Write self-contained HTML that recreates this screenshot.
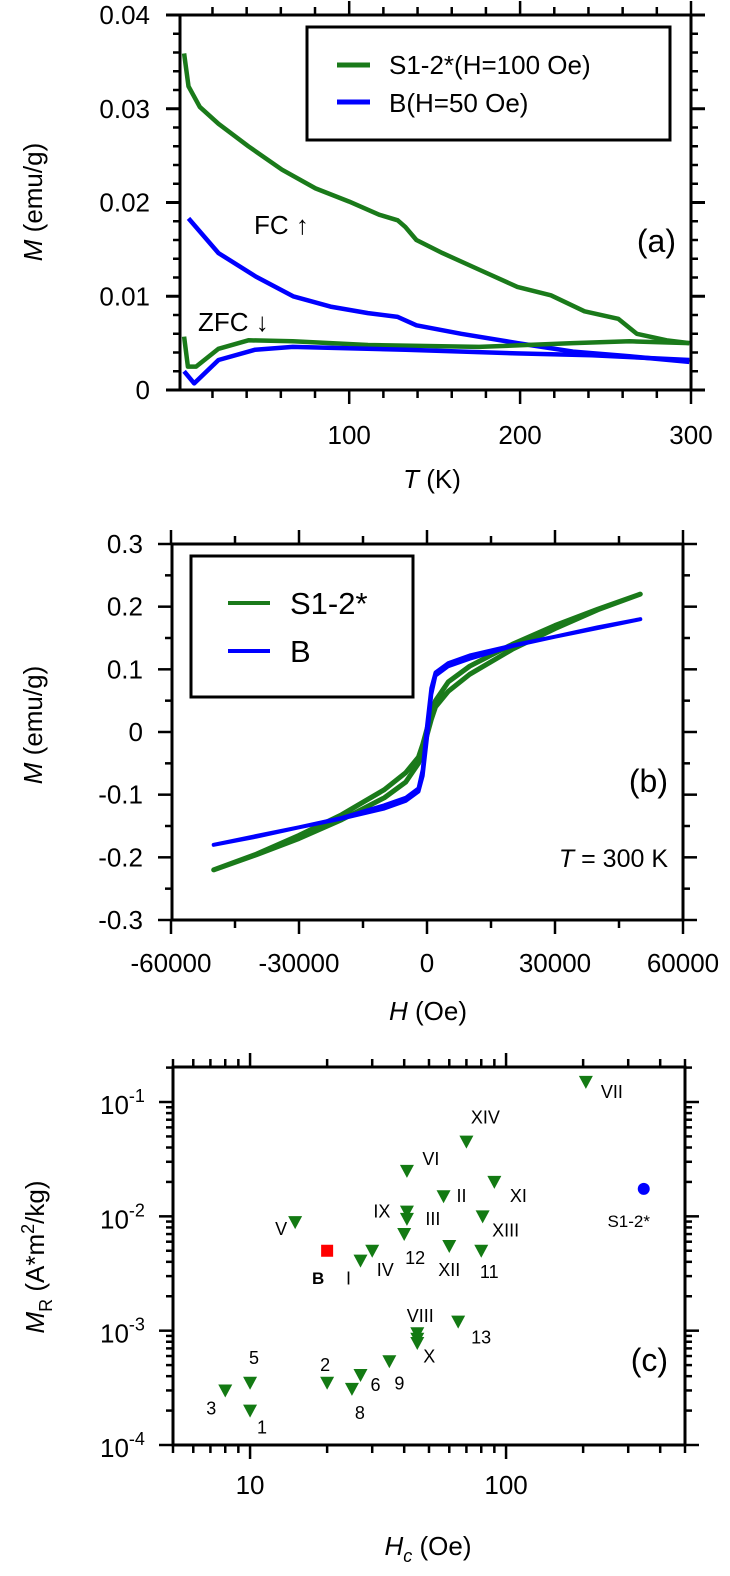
<!DOCTYPE html>
<html><head><meta charset="utf-8"><style>
html,body{margin:0;padding:0;background:#fff}
svg{display:block}
text{font-family:"Liberation Sans",Arial,sans-serif;fill:#000}
</style></head><body>
<svg id="fig" xmlns="http://www.w3.org/2000/svg" width="730" height="1576" viewBox="0 0 730 1576"></svg>
<script>
// ---------- Panel (a) data ----------
const fcGreenT = [3.4,6,12.6,23.5,41,60.7,80.3,100,117.5,128.4,132.8,139.3,154.6,176.5,198.4,218,237.7,257.4,268.3,285.8,299];
const fcGreenM = [0.0359,0.0324,0.0302,0.0284,0.0260,0.0235,0.0215,0.0201,0.0187,0.0181,0.0174,0.0160,0.0146,0.0128,0.0110,0.0101,0.0084,0.0076,0.0060,0.0053,0.0050];
const fcBlueT = [6,23.5,45.4,67.2,89,111,128.4,139.3,165.6,198.4,231,264,299];
const fcBlueM = [0.0183,0.0146,0.0121,0.0100,0.0089,0.0082,0.0078,0.0069,0.0060,0.0050,0.0041,0.0036,0.0030];
const zfcGreenT = [3.4,5.6,10.4,23.5,41,67,111,176,231,264,299];
const zfcGreenM = [0.0057,0.0025,0.0025,0.0044,0.0053,0.0052,0.0048,0.0046,0.0050,0.0052,0.0050];
const zfcBlueT = [3.4,9.3,23.5,45,67,133,198,242,299];
const zfcBlueM = [0.0020,0.0007,0.0032,0.0043,0.0046,0.0043,0.0039,0.0037,0.0032];
const aXTicks = [100,200,300];
const aYTicks = [0,0.01,0.02,0.03,0.04];
const aYTickLabels = ["0","0.01","0.02","0.03","0.04"];
// ---------- Panel (b) data ----------
const loopH = [-50000,-40000,-30000,-20000,-10000,-5000,-2000,-1000,0,1000,2000,5000,10000,20000,30000,40000,50000];
const greenUpM = [-0.22,-0.196,-0.17,-0.14,-0.105,-0.08,-0.05,-0.03,-0.005,0.02,0.04,0.065,0.092,0.132,0.165,0.195,0.22];
const blueUpM = [-0.18,-0.167,-0.152,-0.138,-0.122,-0.11,-0.095,-0.07,-0.01,0.06,0.09,0.105,0.117,0.137,0.152,0.166,0.18];
const bXTicks = [-60000,-30000,0,30000,60000];
const bXTickLabels = ["-60000","-30000","0","30000","60000"];
const bYTicks = [-0.3,-0.2,-0.1,0,0.1,0.2,0.3];
const bYTickLabels = ["-0.3","-0.2","-0.1","0","0.1","0.2","0.3"];
// ---------- Panel (c) data ----------
const cNames = ["VII","XIV","VI","II","XI","IX","III","XIII","V","12","XII","11","IV","I","VIII","X","X2","13","9","6","8","2","5","1","3"];
const cHc = [205,70,41,57,90,41,41,81,15,40,60,80,30,27,45,45,45,65,35,27,25,20,10,10,8];
const cMr = [0.15,0.045,0.025,0.015,0.02,0.011,0.0095,0.010,0.0089,0.007,0.0055,0.005,0.005,0.0041,0.00095,0.00085,0.00078,0.0012,0.00054,0.00041,0.00031,0.00035,0.00035,0.0002,0.0003];
const cShowLabel = ["VII","XIV","VI","II","XI","IX","III","XIII","V","12","XII","11","IV","I","VIII","X","","13","9","6","8","2","5","1","3"];
const cLabelDx = [26,19,24,18,24,-25,26,23,-14,11,0,8,13,-12,3,12,0,23,10,15,8,-2,4,12,-14];
const cLabelDy = [10,-24,-12,0,14,0,0,14,7,24,24,21,19,18,-17,18,0,16,22,10,24,-18,-25,17,18];
const bSampleHc = [20], bSampleMr = [0.005];
const sSampleHc = [345], sSampleMr = [0.0174];
const cYExps = [-4,-3,-2,-1];
const cXTicks = [10,100];

const NS = "http://www.w3.org/2000/svg";
const svg = document.getElementById("fig");
function mk(tag, attrs, parent){const e=document.createElementNS(NS,tag);for(const k in attrs)e.setAttribute(k,attrs[k]);(parent||svg).appendChild(e);return e;}
function poly(xs,ys,fx,fy){return xs.map((v,i)=>fx(v).toFixed(1)+","+fy(ys[i]).toFixed(1)).join(" ");}

// ===== Panel A =====
const A={l:180,r:691,t:15,b:390};
const xa=T=>A.l+(T-1)*(A.r-A.l)/299;
const ya=M=>A.b-M/0.04*(A.b-A.t);
let gA=mk("g",{});


let el;
for(let v=0;v<=0.04001;v+=0.002){const maj=Math.abs(v/0.01-Math.round(v/0.01))<1e-6;const y=ya(v);const L=maj?14:7;
 el=mk("line",{x1:A.l-L,y1:y,x2:A.l,y2:y,stroke:"#000","stroke-width":maj?3:2.5},gA);
 
 
 el=mk("line",{x1:A.r,y1:y,x2:A.r+L,y2:y,stroke:"#000","stroke-width":maj?3:2.5},gA);
 
 }
for(let T=20;T<=300;T+=20){const maj=T%100===0;const x=xa(T);const L=maj?14:8;
 el=mk("line",{x1:x,y1:A.b,x2:x,y2:A.b+L,stroke:"#000","stroke-width":2.5},gA);
 
 
 el=mk("line",{x1:x,y1:A.t-L,x2:x,y2:A.t,stroke:"#000","stroke-width":2.5},gA);
 
 }
el=mk("rect",{x:A.l,y:A.t,width:A.r-A.l,height:A.b-A.t,fill:"none",stroke:"#000","stroke-width":3},gA);


aYTicks.forEach((v,i)=>{el=mk("text",{x:150,y:ya(v)+9,"font-size":26,"text-anchor":"end"},gA);el.textContent=aYTickLabels[i];
 
 });
aXTicks.forEach(v=>{el=mk("text",{x:xa(v),y:444,"font-size":26,"text-anchor":"middle"},gA);el.textContent=String(v);
 
 });
el=mk("text",{x:0,y:0,"font-size":26,"text-anchor":"middle",transform:"translate(42,202) rotate(-90)"},gA);
el.innerHTML='<tspan font-style="italic">M</tspan> (emu/g)';


el=mk("text",{x:432,y:488,"font-size":26,"text-anchor":"middle"},gA);
el.innerHTML='<tspan font-style="italic">T</tspan> (K)';


[[fcGreenT,fcGreenM,"#1a7a1a","fc-green-line"],[fcBlueT,fcBlueM,"#0000ff","fc-blue-line"],[zfcGreenT,zfcGreenM,"#1a7a1a","zfc-green-line"],[zfcBlueT,zfcBlueM,"#0000ff","zfc-blue-line"]].forEach(s=>{
 el=mk("polyline",{points:poly(s[0],s[1],xa,ya),fill:"none",stroke:s[2],"stroke-width":4.5,"stroke-linejoin":"round"},gA);
 
 });
el=mk("text",{x:254,y:234,"font-size":26,fill:"#333"},gA);el.textContent="FC ↑";


el=mk("text",{x:198,y:331,"font-size":26,fill:"#333"},gA);el.textContent="ZFC ↓";


el=mk("text",{x:676,y:252,"font-size":32,"text-anchor":"end"},gA);el.textContent="(a)";


el=mk("rect",{x:307,y:27,width:363,height:113,fill:"#fff",stroke:"#000","stroke-width":3},gA);


el=mk("line",{x1:337,y1:65,x2:370,y2:65,stroke:"#1a7a1a","stroke-width":5},gA);


el=mk("line",{x1:337,y1:102,x2:370,y2:102,stroke:"#0000ff","stroke-width":5},gA);


el=mk("text",{x:389,y:74,"font-size":26},gA);el.textContent="S1-2*(H=100 Oe)";


el=mk("text",{x:389,y:112,"font-size":26},gA);el.textContent="B(H=50 Oe)";



// ===== Panel B =====
const B={l:172,r:683,t:544,b:920};
const xb=H=>427+H/60000*256;
const yb=M=>732-M/0.3*188;
let gB=mk("g",{});


for(let k=-6;k<=6;k++){const v=k*0.05;const maj=k%2===0;const y=yb(v);const L=maj?14:7;
 el=mk("line",{x1:B.l-L,y1:y,x2:B.l,y2:y,stroke:"#000","stroke-width":2.5},gB);
 
 
 el=mk("line",{x1:B.r,y1:y,x2:B.r+L,y2:y,stroke:"#000","stroke-width":2.5},gB);
 
 }
for(let k=-4;k<=4;k++){const v=k*15000;const maj=k%2===0;const x=xb(v);const L=maj?14:8;
 el=mk("line",{x1:x,y1:B.b,x2:x,y2:B.b+L,stroke:"#000","stroke-width":2.5},gB);
 
 
 el=mk("line",{x1:x,y1:B.t-L,x2:x,y2:B.t,stroke:"#000","stroke-width":2.5},gB);
 
 }
el=mk("rect",{x:B.l,y:B.t,width:B.r-B.l,height:B.b-B.t,fill:"none",stroke:"#000","stroke-width":3},gB);


bYTicks.forEach((v,i)=>{el=mk("text",{x:143,y:yb(v)+9,"font-size":26,"text-anchor":"end"},gB);el.textContent=bYTickLabels[i];
 
 });
bXTicks.forEach((v,i)=>{el=mk("text",{x:xb(v),y:972,"font-size":26,"text-anchor":"middle"},gB);el.textContent=bXTickLabels[i];
 
 });
el=mk("text",{x:0,y:0,"font-size":26,"text-anchor":"middle",transform:"translate(42,725) rotate(-90)"},gB);
el.innerHTML='<tspan font-style="italic">M</tspan> (emu/g)';


el=mk("text",{x:428,y:1020,"font-size":26,"text-anchor":"middle"},gB);
el.innerHTML='<tspan font-style="italic">H</tspan> (Oe)';


function loop(mUp){const hDown=loopH.slice().reverse();const mDown=hDown.map(h=>-mUp[loopH.indexOf(-h)]);
 return poly(loopH,mUp,xb,yb)+" "+poly(hDown,mDown,xb,yb);}
el=mk("polygon",{points:loop(greenUpM),fill:"none",stroke:"#1a7a1a","stroke-width":5,"stroke-linejoin":"round"},gB);


el=mk("polygon",{points:loop(blueUpM),fill:"none",stroke:"#0000ff","stroke-width":4,"stroke-linejoin":"round"},gB);


el=mk("text",{x:668,y:792,"font-size":32,"text-anchor":"end"},gB);el.textContent="(b)";


el=mk("text",{x:668,y:867,"font-size":25,"text-anchor":"end"},gB);
el.innerHTML='<tspan font-style="italic">T</tspan> = 300 K';


el=mk("rect",{x:191,y:556,width:222,height:141,fill:"#fff",stroke:"#000","stroke-width":3},gB);


el=mk("line",{x1:228,y1:603,x2:270,y2:603,stroke:"#1a7a1a","stroke-width":4},gB);


el=mk("line",{x1:228,y1:651,x2:270,y2:651,stroke:"#0000ff","stroke-width":4},gB);


el=mk("text",{x:290,y:614,"font-size":31},gB);el.textContent="S1-2*";


el=mk("text",{x:290,y:662,"font-size":31},gB);el.textContent="B";



// ===== Panel C =====
const C={l:173,r:685,t:1067,b:1445};
const xc=h=>C.l+(Math.log10(h)-Math.log10(5))*256;
const yc=m=>C.b-(Math.log10(m)+4)*114.33;
let gC=mk("g",{});


for(let e=-4;e<=-1;e++){for(let k=1;k<=9;k++){const v=k*Math.pow(10,e);if(v>0.2)continue;const y=yc(v);const maj=k===1;const L=maj?14:7;
 el=mk("line",{x1:C.l-L,y1:y,x2:C.l,y2:y,stroke:"#000","stroke-width":2.5},gC);
 
 
 el=mk("line",{x1:C.r,y1:y,x2:C.r+L,y2:y,stroke:"#000","stroke-width":2.5},gC);
 
 }}
for(let e=0;e<=2;e++){for(let k=1;k<=9;k++){const v=k*Math.pow(10,e);if(v<5||v>500)continue;const x=xc(v);const maj=k===1;const L=maj?14:8;
 el=mk("line",{x1:x,y1:C.b,x2:x,y2:C.b+L,stroke:"#000","stroke-width":2.5},gC);
 
 
 el=mk("line",{x1:x,y1:C.t-L,x2:x,y2:C.t,stroke:"#000","stroke-width":2.5},gC);
 
 }}
el=mk("rect",{x:C.l,y:C.t,width:C.r-C.l,height:C.b-C.t,fill:"none",stroke:"#000","stroke-width":3},gC);


cYExps.forEach(e=>{el=mk("text",{x:100,y:yc(Math.pow(10,e))+12,"font-size":26},gC);
 el.innerHTML='10<tspan dy="-12" font-size="18">'+e+'</tspan>';
 
 });
cXTicks.forEach(v=>{el=mk("text",{x:xc(v),y:1494,"font-size":26,"text-anchor":"middle"},gC);el.textContent=String(v);
 
 });
el=mk("text",{x:0,y:0,"font-size":26,"text-anchor":"middle",transform:"translate(44,1257) rotate(-90)"},gC);
el.innerHTML='<tspan font-style="italic">M</tspan><tspan font-size="18" dy="8">R</tspan><tspan dy="-8"> (A*m</tspan><tspan font-size="18" dy="-10">2</tspan><tspan dy="10">/kg)</tspan>';


el=mk("text",{x:428,y:1555,"font-size":26,"text-anchor":"middle"},gC);
el.innerHTML='<tspan font-style="italic">H</tspan><tspan font-size="18" dy="7" font-style="italic">c</tspan><tspan dy="-7"> (Oe)</tspan>';


cHc.forEach((h,i)=>{const x=xc(h),y=yc(cMr[i]);
 el=mk("polygon",{points:(x-7)+","+(y-6)+" "+(x+7)+","+(y-6)+" "+x+","+(y+7),fill:"#137a13"},gC);
 
 
 if(cShowLabel[i]){el=mk("text",{x:x+cLabelDx[i],y:y+cLabelDy[i]+6,"font-size":18,"text-anchor":"middle",fill:"#222"},gC);el.textContent=cShowLabel[i];
 
 }});
bSampleHc.forEach((h,i)=>{const x=xc(h),y=yc(bSampleMr[i]);
 el=mk("rect",{x:x-6,y:y-6,width:12,height:12,fill:"#ff0000"},gC);
 
 
 el=mk("text",{x:x-9,y:y+33,"font-size":17,"font-weight":"bold","text-anchor":"middle"},gC);el.textContent="B";
 
 });
sSampleHc.forEach((h,i)=>{const x=xc(h),y=yc(sSampleMr[i]);
 el=mk("circle",{cx:x,cy:y,r:6,fill:"#0000ff"},gC);
 
 
 el=mk("text",{x:x-15,y:y+38,"font-size":17,"text-anchor":"middle",fill:"#222"},gC);el.textContent="S1-2*";
 
 });
el=mk("text",{x:668,y:1371,"font-size":32,"text-anchor":"end"},gC);el.textContent="(c)";


</script>
</body></html>
